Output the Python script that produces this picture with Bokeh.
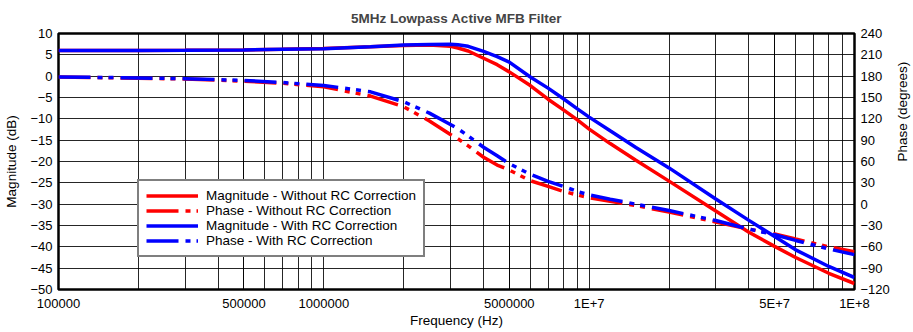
import math
from bokeh.plotting import figure
from bokeh.models import FixedTicker, LinearAxis, Range1d, Legend, LegendItem
from bokeh.embed import file_html
from bokeh.resources import INLINE

# ---- data ----
freq = [1e5, 2e5, 3e5, 5e5, 7e5, 1e6, 1.5e6, 2e6, 2.5e6, 3e6, 3.2e6, 3.5e6, 4e6, 4.5e6, 5e6, 6e6,
        7e6, 8e6, 9e6, 1e7, 1.2e7, 1.5e7, 2e7, 3e7, 4e7, 5e7, 6e7, 8e7, 1e8]

mag_without = [6.0, 6.0, 6.05, 6.15, 6.3, 6.5, 6.9, 7.2, 7.3, 7.0, 6.6, 5.9, 4.2, 2.7, 1.0, -2.2,
               -5.4, -7.9, -10.2, -12.4, -15.8, -19.7, -24.6, -31.6, -36.6, -39.9, -42.5, -46.2, -48.6]
phase_without = [179, 177, 176, 173, 170, 165, 152, 137, 117, 98, 92, 82, 66, 55, 48, 33,
                 25, 18, 13, 9, 4, -2, -11, -25, -35, -42, -49, -60, -67]
mag_with = [6.0, 6.0, 6.05, 6.15, 6.3, 6.45, 6.9, 7.3, 7.45, 7.5, 7.35, 7.0, 5.8, 4.6, 3.3, -0.2,
            -2.8, -5.3, -7.6, -9.6, -12.8, -16.7, -21.5, -28.8, -33.8, -37.6, -40.7, -44.6, -47.2]
phase_with = [179, 177.5, 176.5, 174, 171, 167, 158, 144, 128, 112, 106, 96, 80, 68, 57, 42,
              32, 25, 18, 13, 7, 0, -9, -23, -35, -43, -51, -63, -71]

x_ticks = [1e5, 5e5, 1e6, 5e6, 1e7, 5e7, 1e8]
x_tick_labels = ["100000", "500000", "1000000", "5000000", "1E+7", "5E+7", "1E+8"]
x_minor = [m * d for d in (1e5, 1e6, 1e7) for m in range(2, 10)]
mag_ticks = list(range(-50, 11, 5))
phase_ticks = list(range(-120, 241, 30))

series_labels = ["Magnitude - Without RC Correction", "Phase - Without RC Correction",
                 "Magnitude - With RC Correction", "Phase - With RC Correction"]

RED = "#ff0000"
BLUE = "#0000ff"
FONT = "Liberation Sans"

p = figure(frame_width=796, frame_height=256, x_axis_type="log",
           x_range=Range1d(1e5, 1e8), y_range=Range1d(-50, 10),
           output_backend="svg", toolbar_location=None,
           min_border_left=58, min_border_right=59, min_border_top=33, min_border_bottom=43,
           title="5MHz Lowpass Active MFB Filter")
p.extra_y_ranges = {"phase": Range1d(-120, 240)}

p.title.align = "center"
p.title.text_font = FONT
p.title.text_font_size = "13.5px"
p.title.text_font_style = "bold"
p.title.standoff = 16

p.outline_line_color = "black"
p.outline_line_width = 2.5
p.outline_line_alpha = 1

xt = FixedTicker(ticks=x_ticks, minor_ticks=x_minor)
p.xaxis.ticker = xt
p.xgrid.ticker = xt
p.xaxis.major_label_overrides = dict(zip(x_ticks, x_tick_labels))
p.yaxis.ticker = FixedTicker(ticks=mag_ticks)
p.ygrid.ticker = FixedTicker(ticks=mag_ticks)

for g in (p.xgrid, p.ygrid):
    g.grid_line_color = "black"
    g.grid_line_alpha = 0.85
    g.grid_line_width = 1
p.xgrid.minor_grid_line_color = "black"
p.xgrid.minor_grid_line_alpha = 0.85

right = LinearAxis(y_range_name="phase", ticker=FixedTicker(ticks=phase_ticks))
p.add_layout(right, "right")

p.xaxis.axis_label = "Frequency (Hz)"
p.yaxis[0].axis_label = "Magnitude (dB)"
right.axis_label = "Phase (degrees)"

for ax in p.xaxis + p.yaxis:
    ax.axis_line_color = None
    ax.major_tick_line_color = None
    ax.minor_tick_line_color = None
    ax.major_tick_out = 0
    ax.major_tick_in = 0
    ax.minor_tick_out = 0
    ax.major_label_text_font = FONT
    ax.major_label_text_font_size = "13px"
    ax.major_label_text_color = "black"
    ax.axis_label_text_font = FONT
    ax.axis_label_text_font_size = "13.5px"
    ax.axis_label_text_font_style = "normal"
    ax.axis_label_text_color = "black"
    ax.major_label_standoff = 6
p.yaxis[0].axis_label_standoff = 8
right.axis_label_standoff = 10
p.xaxis.major_label_standoff = 6
p.xaxis.axis_label_standoff = -1
try:
    right.axis_label_orientation = math.pi / 2
except Exception:
    pass

W = 3.5
DASH = "32 7 5 6 5 7"
r1 = p.line(freq, mag_without, color=RED, line_width=W)
r2 = p.line(freq, phase_without, color=RED, line_width=W, line_dash=DASH, y_range_name="phase")
r3 = p.line(freq, mag_with, color=BLUE, line_width=W)
r4 = p.line(freq, phase_with, color=BLUE, line_width=W, line_dash=DASH, y_range_name="phase")

legend = Legend(items=[LegendItem(label=series_labels[0], renderers=[r1]),
                       LegendItem(label=series_labels[1], renderers=[r2]),
                       LegendItem(label=series_labels[2], renderers=[r3]),
                       LegendItem(label=series_labels[3], renderers=[r4])],
                location=(79, 32))
legend.border_line_color = "black"
legend.border_line_width = 2
legend.background_fill_color = "white"
legend.background_fill_alpha = 1
legend.label_text_font = FONT
legend.label_text_font_size = "13.5px"
legend.label_text_color = "black"
legend.glyph_width = 52
legend.glyph_height = 15
legend.label_height = 15
legend.label_standoff = 8
legend.spacing = 0
legend.padding = 7
legend.margin = 0
p.add_layout(legend, "center")

open("out.html", "w").write(file_html(p, INLINE))
